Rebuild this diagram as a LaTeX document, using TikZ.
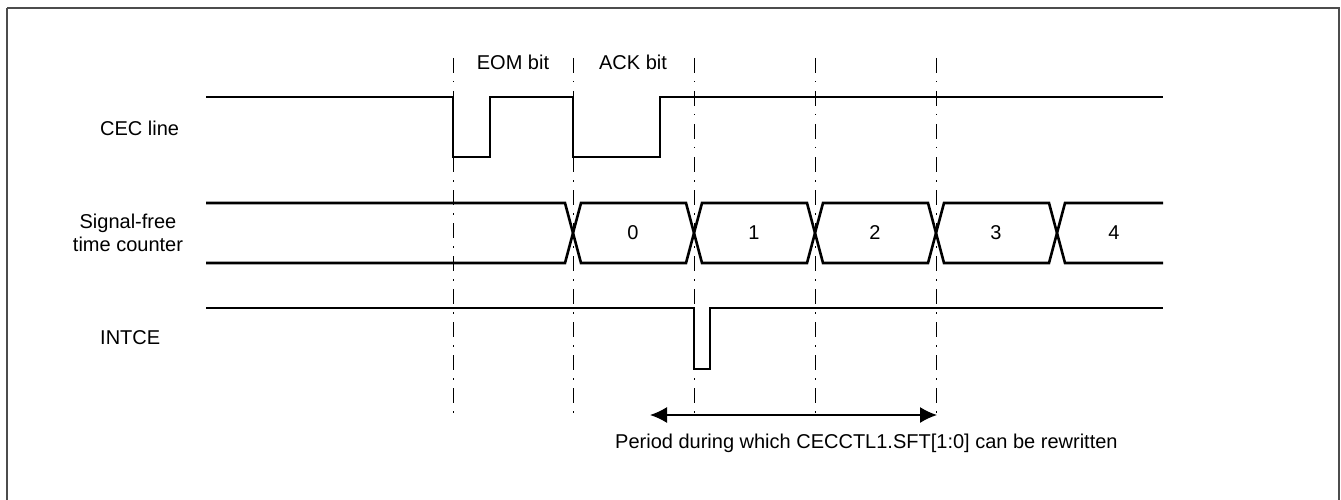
\documentclass[tikz,border=0pt]{standalone}
\usepackage{fontspec}
\setmainfont{Liberation Sans}
\usetikzlibrary{arrows.meta}
\begin{document}
\begin{tikzpicture}[x=1pt,y=-1pt,
  sig/.style={line width=2.6pt, line join=miter},
  guide/.style={line width=1pt, dash pattern=on 15pt off 8pt on 1.5pt off 8.5pt},
  lbl/.style={font=\fontsize{20}{23.5}\selectfont, inner sep=0pt},
  frame/.style={draw=black!70, line width=1.5pt}]
\useasboundingbox (0,0) rectangle (1341,500);
\draw[frame] (7,8) -- (1339,8) -- (1339,500);
\draw[frame] (7,8) -- (7,500);
% guides
\foreach \x/\n in {453/g1,573/g2,694/g3,815/g4,936/g5}{
  \coordinate (\n t) at (\x,58);
  \coordinate (\n b) at (\x,415);
  \draw[guide] (\n t) -- (\n b);
}
% labels
\node[lbl] (eom) at (513,62) {EOM bit};
\node[lbl] (ack) at (633,62) {ACK bit};
\node[lbl, anchor=west] (cec) at (100,128) {CEC line};
\node[lbl, align=center] (sfc) at (128,233) {Signal-free\\time counter};
\node[lbl, anchor=west] (intce) at (100,338) {INTCE};
% CEC line
\draw[sig] (206,97) -- (453,97) -- (453,157) -- (490,157) -- (490,97) -- (573,97) -- (573,157) -- (660,157) -- (660,97) -- (1163,97);
% counter
\draw[sig] (206,203) -- (565,203) -- (581,263) -- (686,263) -- (702,203) -- (807,203) -- (823,263) -- (928,263) -- (944,203) -- (1049,203) -- (1065,263) -- (1163,263);
\draw[sig] (206,263) -- (565,263) -- (581,203) -- (686,203) -- (702,263) -- (807,263) -- (823,203) -- (928,203) -- (944,263) -- (1049,263) -- (1065,203) -- (1163,203);
\node[lbl] (c0) at (633,233) {0};
\node[lbl] (c1) at (754,233) {1};
\node[lbl] (c2) at (875,233) {2};
\node[lbl] (c3) at (996,233) {3};
\node[lbl] (c4) at (1114,233) {4};
% INTCE
\draw[sig] (206,308) -- (694,308) -- (694,369) -- (710,369) -- (710,308) -- (1163,308);
% arrow
\coordinate (al) at (650,415);
\coordinate (ar) at (937,415);
\draw[line width=1.5pt, {Latex[length=17pt,width=16pt]}-{Latex[length=17pt,width=16pt]}] (al) -- (ar);
\node[lbl, anchor=west] (per) at (615,443) {Period during which CECCTL1.SFT[1:0] can be rewritten};
\end{tikzpicture}
\end{document}
